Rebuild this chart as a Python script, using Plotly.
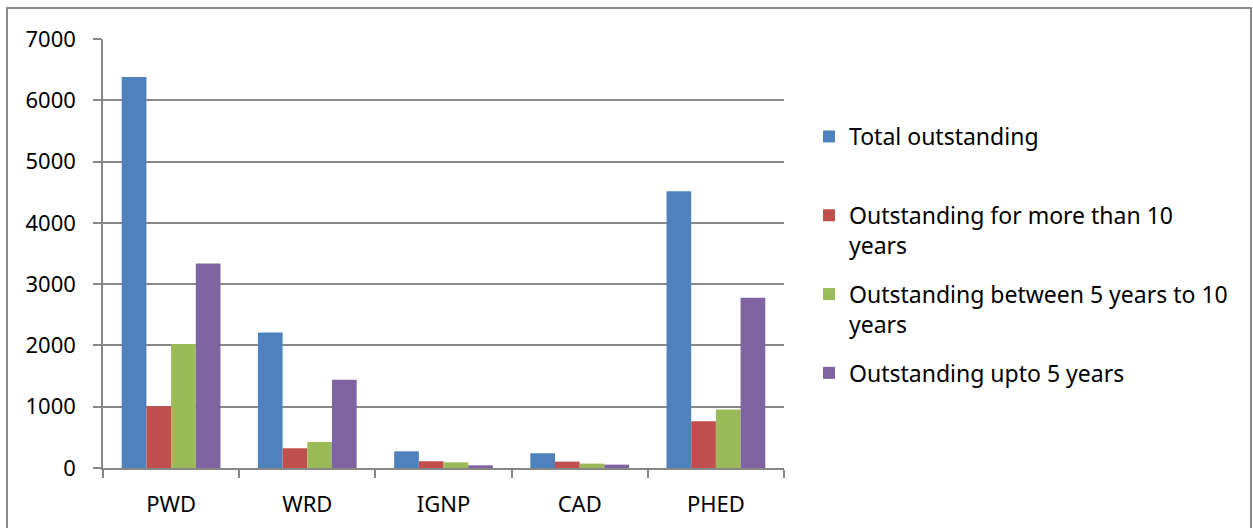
import plotly.graph_objects as go

categories = ["PWD", "WRD", "IGNP", "CAD", "PHED"]
series_names = [
    "Total outstanding<br> ",
    "Outstanding for more than 10<br>years",
    "Outstanding between 5 years to 10<br>years",
    "Outstanding upto 5 years",
]
total_outstanding = [6380, 2210, 272, 240, 4515]
more_than_10 = [1008, 322, 110, 104, 763]
between_5_10 = [2023, 424, 93, 72, 953]
upto_5 = [3335, 1442, 44, 55, 2780]
colors = ["#4F81BD", "#C0504D", "#9BBB59", "#8064A2"]
y_ticks = [0, 1000, 2000, 3000, 4000, 5000, 6000, 7000]

values = [total_outstanding, more_than_10, between_5_10, upto_5]

# body margin is removed by post_script, so div coords == screen coords
W, H = 1253, 528
L, T = 103, 39
R = W - 784
B = H - 468
pw, ph = W - L - R, H - T - B

fig = go.Figure()
for i, (name, vals, col) in enumerate(zip(series_names, values, colors)):
    fig.add_trace(go.Bar(
        x=categories, y=vals, name=name,
        marker=dict(color=col, line=dict(width=0)),
        legendgroup="g%d" % i,
    ))

font_family = "Noto Sans, Open Sans, sans-serif"
fig.update_layout(
    width=W, height=H,
    margin=dict(l=L, r=R, t=T, b=B, autoexpand=False),
    paper_bgcolor="white", plot_bgcolor="white",
    barmode="group", bargap=0.275, bargroupgap=0,
    font=dict(family=font_family, size=22, color="#000000"),
    showlegend=True,
    legend=dict(
        x=(809 - L) / pw, xanchor="left",
        y=1 - (115 - T) / ph, yanchor="top",
        valign="top", traceorder="grouped",
        tracegroupgap=16,
        font=dict(family=font_family, size=23, color="#000000"),
        bgcolor="rgba(0,0,0,0)",
    ),
    xaxis=dict(
        showline=True, linecolor="#878787", linewidth=1.5,
        ticks="outside", tickson="boundaries", ticklen=8, tickcolor="#878787", tickwidth=1.5,
        showgrid=False, ticklabelstandoff=16,
    ),
    yaxis=dict(
        range=[0, 7000], tickvals=y_ticks, ticktext=[str(v) for v in y_ticks],
        showline=True, linecolor="#878787", linewidth=1.5,
        ticks="outside", ticklen=8, tickcolor="#878787", tickwidth=1.5,
        showgrid=True, gridcolor="#878787", gridwidth=1.5,
        zeroline=False, ticklabelstandoff=13,
    ),
)

fig.add_shape(
    type="rect", xref="paper", yref="paper",
    x0=(7 - L) / pw, x1=(1251 - L) / pw,
    y0=-(600 - T - ph) / ph, y1=1 + (T - 8) / ph,
    line=dict(color="#898989", width=2), fillcolor="rgba(0,0,0,0)",
    layer="below",
)

fig.write_html(
    "out.html",
    config={"displayModeBar": False},
    post_script="document.body.style.margin='0';document.body.style.overflow='hidden';",
)
